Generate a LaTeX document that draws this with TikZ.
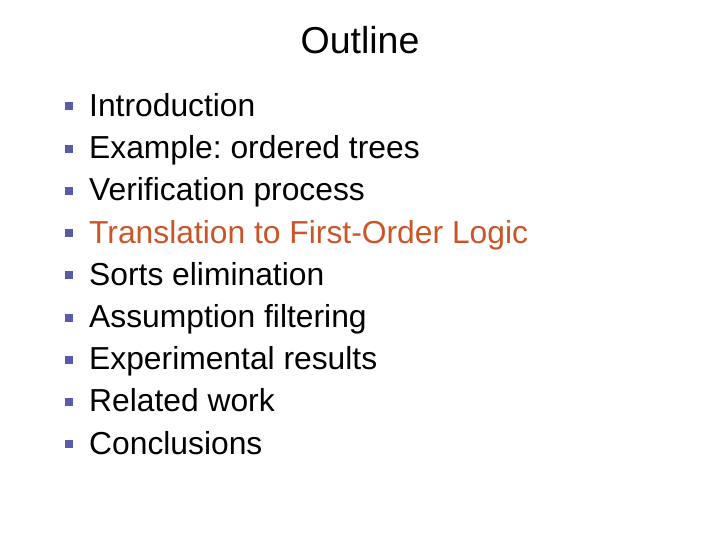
\documentclass[tikz,border=0pt]{standalone}
\usepackage{fontspec}
\setmainfont{Liberation Sans}
\definecolor{hl}{RGB}{204,85,40}
\definecolor{bul}{RGB}{90,90,170}
\begin{document}
\frenchspacing
\begin{tikzpicture}[x=1pt,y=-1pt,
  item/.style={anchor=base west,inner sep=0pt,font=\fontsize{31.8}{34}\selectfont},
  bsq/.style={fill=bul,minimum size=8pt,inner sep=0pt}]
\useasboundingbox (0,0) rectangle (720,540);
\node[inner sep=0pt,anchor=base,font=\fontsize{37.5}{40}\selectfont] (title) at (360,53.5) {Outline};
\foreach \t [count=\i] in {Introduction,Example: ordered trees,Verification process,Translation to First-Order Logic,Sorts elimination,Assumption filtering,Experimental results,Related work,Conclusions}{
  \pgfmathsetmacro\yy{116.5+(\i-1)*42.2}
  \ifnum\i=4
    \node[item,text=hl] (t\i) at (89,\yy) {\t};
  \else
    \node[item] (t\i) at (89,\yy) {\t};
  \fi
  \node[bsq] (b\i) at (68.5,\yy-10) {};
}
\end{tikzpicture}
\end{document}
